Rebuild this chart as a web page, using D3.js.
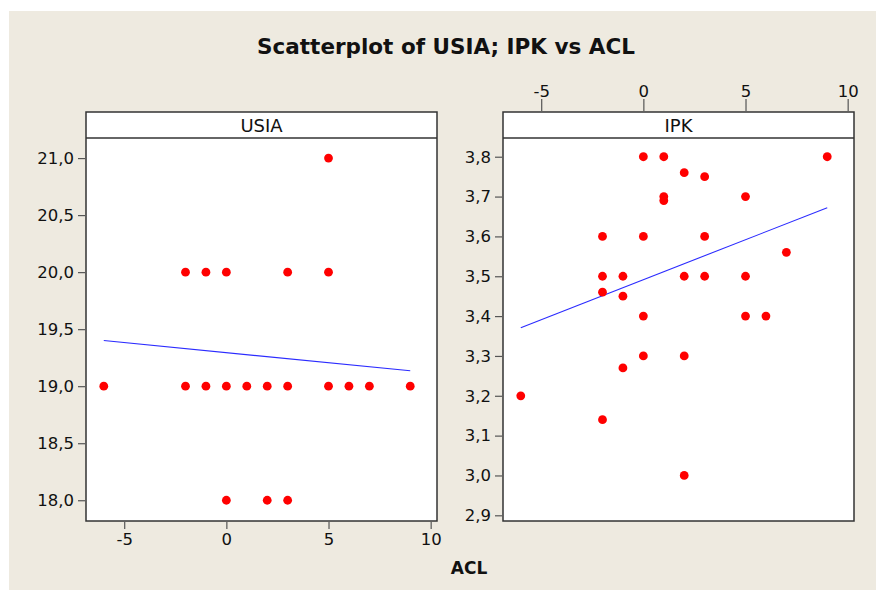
<!DOCTYPE html>
<html><head><meta charset="utf-8">
<script src="https://cdn.jsdelivr.net/npm/d3@7"></script>
<style>html,body{margin:0;padding:0;background:#fff;}svg{display:block;}</style>
</head><body>
<script>
// ---- data ----
const title = "Scatterplot of USIA; IPK vs ACL";
const xLabel = "ACL";
const panelNames = ["USIA", "IPK"];
const xTicks = [-5, 0, 5, 10];
const usiaTicks = [18.0, 18.5, 19.0, 19.5, 20.0, 20.5, 21.0];
const ipkTicks = [2.9, 3.0, 3.1, 3.2, 3.3, 3.4, 3.5, 3.6, 3.7, 3.8];
// USIA vs ACL (distinct plotted points)
const usiaACL = [5, -2, -1, 0, 3, 5, -6, -2, -1, 0, 1, 2, 3, 5, 6, 7, 9, 0, 2, 3];
const usiaVal = [21, 20, 20, 20, 20, 20, 19, 19, 19, 19, 19, 19, 19, 19, 19, 19, 19, 18, 18, 18];
// IPK vs ACL
const ipkACL = [0, 1, 9, 2, 3, 1, 5, 1, -2, 0, 3, 7, -2, -1, 2, 3, 5, -2, -1, 0, 5, 6, 0, 2, -1, -6, -2, 2];
const ipkVal = [3.80, 3.80, 3.80, 3.76, 3.75, 3.70, 3.70, 3.69, 3.60, 3.60, 3.60, 3.56, 3.50, 3.50, 3.50, 3.50, 3.50, 3.46, 3.45, 3.40, 3.40, 3.40, 3.30, 3.30, 3.27, 3.20, 3.14, 3.00];
// fitted regression lines (endpoints at min/max ACL)
const fitACL = [-6, 9];
const usiaFit = [19.40, 19.135];
const ipkFit = [3.371, 3.672];

// ---- layout ----
const W = 876, H = 590;
const bg = "#EEEAE0";
const font = "'DejaVu Sans', Verdana, sans-serif";
const svg = d3.select("body").append("svg").attr("width", W).attr("height", H);
svg.append("rect").attr("width", W).attr("height", H).attr("fill", "#fff");
svg.append("rect").attr("x", 9).attr("y", 11).attr("width", W - 9).attr("height", H - 11).attr("fill", bg);

svg.append("text").attr("x", 446).attr("y", 54).attr("text-anchor", "middle")
  .attr("font-family", font).attr("font-weight", "bold").attr("font-size", 21.5)
  .attr("fill", "#111").text(title);

const headTop = 112, plotTop = 138, plotBot = 521;
const panels = [
  {name: panelNames[0], x0: 86, x1: 437, ydom: [17.818, 21.176], yt: usiaTicks, xs: usiaACL, ys: usiaVal, fit: usiaFit, xAxisPos: "bottom"},
  {name: panelNames[1], x0: 503, x1: 854, ydom: [2.8857, 3.847], yt: ipkTicks, xs: ipkACL, ys: ipkVal, fit: ipkFit, xAxisPos: "top"}
];
const fmt = v => d3.format(".1f")(v).replace(".", ",");
const xfmt = v => String(v);

panels.forEach(p => {
  const x = d3.scaleLinear().domain([-6.87, 10.31]).range([p.x0, p.x1]);
  const y = d3.scaleLinear().domain(p.ydom).range([plotBot, plotTop]);
  const g = svg.append("g");
  // plot area
  g.append("rect").attr("x", p.x0).attr("y", headTop).attr("width", p.x1 - p.x0).attr("height", plotBot - headTop)
    .attr("fill", "#fff").attr("stroke", "#333").attr("stroke-width", 1.5);
  g.append("line").attr("x1", p.x0).attr("x2", p.x1).attr("y1", plotTop).attr("y2", plotTop)
    .attr("stroke", "#333").attr("stroke-width", 1.5);
  g.append("text").attr("x", (p.x0 + p.x1) / 2).attr("y", (headTop + plotTop) / 2 + 6.5)
    .attr("text-anchor", "middle").attr("font-family", font).attr("font-size", 18).attr("fill", "#111").text(p.name);

  // y axis
  const ya = g.append("g").attr("transform", `translate(${p.x0 - 1},0)`)
    .call(d3.axisLeft(y).tickValues(p.yt).tickFormat(fmt).tickSize(7).tickPadding(4));
  ya.select(".domain").remove();
  ya.selectAll("line").attr("stroke", "#555").attr("stroke-width", 1.2);
  ya.selectAll("text").attr("font-family", font).attr("font-size", 16.5).attr("fill", "#111");

  // x axis
  if (p.xAxisPos === "bottom") {
    const xa = g.append("g").attr("transform", `translate(0,${plotBot + 1})`)
      .call(d3.axisBottom(x).tickValues(xTicks).tickFormat(xfmt).tickSize(7).tickPadding(4));
    xa.select(".domain").remove();
    xa.selectAll("line").attr("stroke", "#555").attr("stroke-width", 1.2);
    xa.selectAll("text").attr("font-family", font).attr("font-size", 16.5).attr("fill", "#111");
  } else {
    const xa = g.append("g").attr("transform", `translate(0,${headTop - 1})`)
      .call(d3.axisTop(x).tickValues(xTicks).tickFormat(xfmt).tickSize(12).tickPadding(2));
    xa.select(".domain").remove();
    xa.selectAll("line").attr("stroke", "#555").attr("stroke-width", 1.2);
    xa.selectAll("text").attr("font-family", font).attr("font-size", 16.5).attr("fill", "#111");
  }

  // fit line
  g.append("line").attr("x1", x(fitACL[0])).attr("x2", x(fitACL[1]))
    .attr("y1", y(p.fit[0])).attr("y2", y(p.fit[1]))
    .attr("stroke", "#2b2bff").attr("stroke-width", 1.1);

  // points
  g.selectAll("circle.pt").data(p.xs.map((v, i) => [v, p.ys[i]])).join("circle")
    .attr("class", "pt").attr("cx", d => x(d[0])).attr("cy", d => y(d[1])).attr("r", 4.4).attr("fill", "#ff0000");
});

svg.append("text").attr("x", 469).attr("y", 574).attr("text-anchor", "middle")
  .attr("font-family", font).attr("font-weight", "bold").attr("font-size", 17)
  .attr("fill", "#111").text(xLabel);
</script>
</body></html>
